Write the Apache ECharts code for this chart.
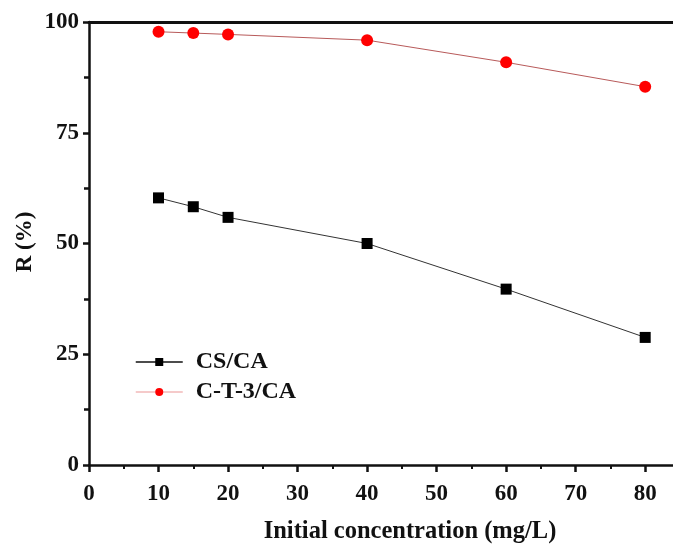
<!DOCTYPE html>
<html>
<head>
<meta charset="utf-8">
<style>
  html, body { margin: 0; padding: 0; background: #fff; }
  #chart { width: 673px; height: 545px; }
</style>
<script src="https://cdn.jsdelivr.net/npm/echarts@6/dist/echarts.min.js"></script>
</head>
<body>
<div id="chart"></div>
<script>
// Initial concentration (mg/L)
const concentrations = [10, 15, 20, 40, 60, 80];
// Removal rate R (%)
const csCA = [60.3, 58.3, 55.9, 50.0, 39.7, 28.8];
const ct3CA = [97.8, 97.5, 97.2, 95.9, 90.9, 85.4];
const xTicks = [0, 10, 20, 30, 40, 50, 60, 70, 80];
const yTicks = [0, 25, 50, 75, 100];

const serif = "'Liberation Serif', 'Times New Roman', serif";

const chart = echarts.init(document.getElementById('chart'), null, { renderer: 'canvas' });

function pairs(xs, ys) { return xs.map((x, i) => [x, ys[i]]); }

chart.setOption({
  animation: false,
  backgroundColor: '#fff',
  grid: { left: 89, top: 22, width: 586, height: 443, containLabel: false },
  legend: {
    orient: 'vertical',
    left: 130,
    top: 345,
    itemWidth: 47,
    itemHeight: 10,
    itemGap: 6,
    textStyle: { fontFamily: serif, fontWeight: 'bold', fontSize: 24, color: '#111', padding: [0, 0, 0, 8] },
    data: [
      { name: 'CS/CA', lineStyle: { color: '#111', width: 1.5 } },
      { name: 'C-T-3/CA', lineStyle: { color: '#f2b8b8', width: 1.5 } }
    ]
  },
  xAxis: [{
    type: 'value',
    min: 0,
    max: 84,
    interval: 10,
    axisLine: { show: true, onZero: false, lineStyle: { color: '#111', width: 2.5 } },
    axisTick: { show: true, length: 7, lineStyle: { color: '#111', width: 2.5 }, customValues: xTicks },
    minorTick: { show: true, splitNumber: 2, length: 4, lineStyle: { color: '#111', width: 2 } },
    axisLabel: { customValues: xTicks, margin: 18, fontFamily: serif, fontWeight: 'bold', fontSize: 23, color: '#111' },
    splitLine: { show: false }
  }, {
    type: 'value',
    position: 'top',
    min: 0,
    max: 84,
    axisLine: { show: true, onZero: false, lineStyle: { color: '#111', width: 3 } },
    axisTick: { show: false },
    axisLabel: { show: false },
    splitLine: { show: false }
  }],
  yAxis: {
    type: 'value',
    min: 0,
    max: 100,
    interval: 25,
    axisLine: { show: true, onZero: false, lineStyle: { color: '#111', width: 2.5 } },
    axisTick: { show: true, length: 6, lineStyle: { color: '#111', width: 2.5 } },
    minorTick: { show: true, splitNumber: 2, length: 5, lineStyle: { color: '#111', width: 2.5 } },
    axisLabel: { margin: 10, fontFamily: serif, fontWeight: 'bold', fontSize: 23, color: '#111' },
    splitLine: { show: false }
  },
  graphic: [
    {
      type: 'text',
      x: 410, y: 532,
      style: {
        text: 'Initial concentration (mg/L)',
        font: 'bold 24.5px ' + serif,
        fill: '#111',
        textAlign: 'center',
        textVerticalAlign: 'middle'
      }
    },
    {
      type: 'text',
      x: 25, y: 242,
      rotation: Math.PI / 2,
      style: {
        text: 'R (%)',
        font: 'bold 23px ' + serif,
        fill: '#111',
        textAlign: 'center',
        textVerticalAlign: 'middle'
      }
    }
  ],
  series: [
    {
      name: 'CS/CA',
      type: 'line',
      data: pairs(concentrations, csCA),
      symbol: 'rect',
      symbolSize: 11,
      itemStyle: { color: '#000' },
      lineStyle: { color: '#333', width: 1 },
      z: 3
    },
    {
      name: 'C-T-3/CA',
      type: 'line',
      data: pairs(concentrations, ct3CA),
      symbol: 'circle',
      symbolSize: 12,
      itemStyle: { color: '#ff0000' },
      lineStyle: { color: '#b85a5a', width: 1 },
      z: 3
    }
  ]
});
</script>
</body>
</html>
